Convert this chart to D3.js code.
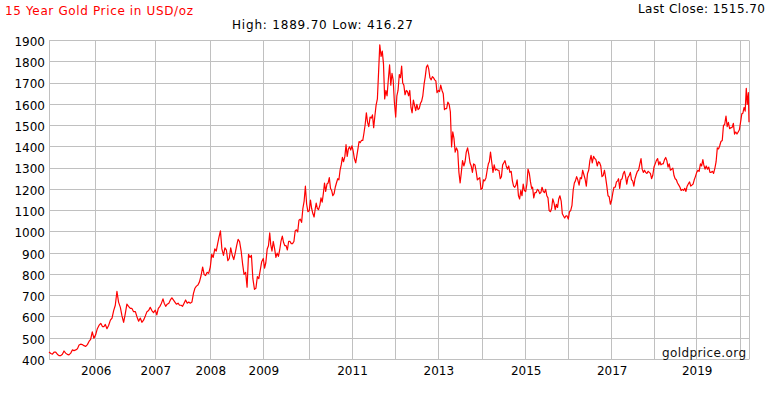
<!DOCTYPE html>
<html>
<head>
<meta charset="utf-8">
<script src="https://cdn.jsdelivr.net/npm/d3@7"></script>
<style>
  html, body { margin: 0; padding: 0; background: #fff; }
  svg { display: block; font-family: "DejaVu Sans", Verdana, sans-serif; }
</style>
</head>
<body>
<svg id="chart" width="770" height="394"></svg>
<script>
// ---------- DATA (gold price, USD/oz, sampled on days 1, 11, 21 of each month) ----------
const title = "15 Year Gold Price in USD/oz";
const highLow = "High: 1889.70 Low: 416.27";
const lastCloseLabel = "Last Close: 1515.70";
const source = "goldprice.org";

const sampleDays = [1, 11, 21];
const firstDate = "2005-03-21";
const lastGridDate = "2020-03-11";
const lastCloseDate = "2020-03-17";
const lastClose = 1515.70;

const p2005 = [435, 428,425,435, 435,425,418, 418,425,440, 430,424,422, 430,445,442, 445,450,468, 472,470,465, 462,470,485, 495,530,500];
const p2006 = [517,545,560, 570,555,555, 565,545,560, 585,595,630, 655,720,670, 645,605,575, 615,660,650, 640,640,625, 625,600,580, 595,575,585, 605,625,630, 645,630,620];
const p2007 = [632,610,640, 650,665,685, 665,650,660, 665,680,690, 680,670,660, 665,655,655, 650,665,680, 665,670,665, 670,710,735, 745,750,765, 795,835,800, 795,810,805];
const p2008 = [835,895,880, 920,910,945, 975,1005,920, 890,925,915, 865,875,925, 890,870,900, 935,965,955, 910,850,800, 810,740,895, 880,890,780, 730,735,790, 780,820,860];
const p2009 = [875,830,855, 920,935,995, 940,910,955, 920,880,900, 885,915,955, 980,950,935, 935,915,955, 955,945,945, 955,1005,1010, 1000,1055,1060, 1045,1110,1145, 1215,1130,1095];
const p2010 = [1100,1150,1110, 1085,1070,1110, 1135,1110,1105, 1125,1160,1140, 1180,1230,1190, 1225,1230,1255, 1205,1195,1170, 1180,1210,1230, 1250,1245,1290, 1315,1350,1330, 1355,1410,1355, 1390,1400,1385];
const p2011 = [1405,1380,1345, 1325,1360,1395, 1425,1420,1430, 1430,1465,1505, 1560,1515,1495, 1540,1535,1550, 1490,1545,1595, 1625,1750,1880, 1825,1850,1790, 1625,1665,1640, 1720,1785,1690, 1745,1715,1610];
const p2012 = [1540,1640,1665, 1740,1725,1780, 1700,1690,1645, 1665,1660,1640, 1665,1585,1560, 1620,1595,1570, 1600,1575,1580, 1605,1615,1640, 1695,1730,1775, 1785,1765,1725, 1715,1730,1725, 1715,1710,1655];
const p2013 = [1665,1660,1690, 1665,1650,1575, 1580,1580,1610, 1600,1565,1400, 1470,1440,1375, 1395,1380,1280, 1230,1280,1335, 1310,1330,1375, 1395,1365,1325, 1310,1280,1320, 1315,1285,1245, 1250,1255,1200];
const p2014 = [1205,1245,1240, 1255,1290,1320, 1330,1375,1330, 1280,1315,1290, 1295,1290,1290, 1250,1260,1315, 1325,1335,1310, 1295,1310,1280, 1285,1240,1215, 1210,1220,1245, 1170,1155,1195, 1170,1225,1195];
const p2015 = [1190,1225,1295, 1275,1235,1205, 1210,1160,1185, 1185,1200,1195, 1180,1185,1210, 1190,1185,1200, 1170,1160,1100, 1095,1110,1155, 1135,1105,1130, 1115,1155,1170, 1145,1085,1075, 1065,1075,1075];
const p2016 = [1060,1095,1100, 1125,1195,1230, 1240,1260,1245, 1220,1255,1250, 1290,1270,1250, 1215,1275,1290, 1335,1360,1325, 1355,1345,1340, 1310,1330,1325, 1310,1260,1265, 1290,1255,1215, 1170,1165,1130];
const p2017 = [1150,1185,1210, 1210,1235,1240, 1250,1205,1245, 1250,1275,1285, 1260,1225,1255, 1265,1280,1245, 1240,1215,1250, 1270,1285,1290, 1320,1345,1295, 1280,1290,1280, 1275,1285,1280, 1275,1250,1265];
const p2018 = [1305,1320,1335, 1345,1315,1330, 1315,1320,1320, 1340,1350,1335, 1305,1320,1290, 1295,1300,1265, 1250,1245,1230, 1220,1210,1195, 1200,1195,1205, 1190,1215,1225, 1235,1215,1220, 1225,1245,1260];
const p2019 = [1280,1290,1285, 1320,1310,1340, 1315,1295,1310, 1295,1305,1280, 1280,1285,1275, 1300,1330,1395, 1390,1405,1425, 1430,1500,1505, 1545,1495,1515, 1485,1490,1490, 1510,1460,1470, 1460,1470,1480];
const p2020 = [1520,1555,1558, 1585,1568,1675, 1600,1655];

const yTicks = [400, 500, 600, 700, 800, 900, 1000, 1100, 1200, 1300, 1400, 1500, 1600, 1700, 1800, 1900];
const gridYears = [2006, 2007, 2008, 2009, 2010, 2011, 2012, 2013, 2014, 2015, 2016, 2017, 2018, 2019, 2020];
const labelYears = [2006, 2007, 2008, 2009, 2011, 2013, 2015, 2017, 2019];

// ---------- LAYOUT ----------
const W = 770, H = 394;
const plot = { left: 49, right: 749, top: 40.5, bottom: 359.5 };
// horizontal positions where each year boundary falls on the original chart (uneven spacing)
const yearPixels = [95.7, 155.3, 210.3, 263.3, 309.3, 352, 395.7, 438.3, 482.3, 525.7, 568.3, 611.7, 654, 696.7, 740.7];

const parse = d3.timeParse("%Y-%m-%d");
const t0 = parse(firstDate), tGridEnd = parse(lastGridDate), tEnd = parse(lastCloseDate);

// build sample dates
const dates = [];
d3.timeMonth.range(new Date(2005, 2, 1), new Date(2020, 3, 1)).forEach(m => {
  sampleDays.forEach(d => {
    const t = new Date(m.getFullYear(), m.getMonth(), d);
    if (t >= t0 && t <= tGridEnd) dates.push(t);
  });
});
const prices = [].concat(p2005, p2006, p2007, p2008, p2009, p2010, p2011, p2012, p2013,
  p2014, p2015, p2016, p2017, p2018, p2019, p2020);
const series = dates.map((d, i) => ({ date: d, value: prices[i] }));
series.push({ date: tEnd, value: lastClose });

// ---------- SCALES ----------
const yearDates = gridYears.map(y => new Date(y, 0, 1));
const x = d3.scaleTime()
  .domain([t0, ...yearDates, tEnd])
  .range([plot.left, ...yearPixels, plot.right]);
const y = d3.scaleLinear().domain([400, 1900]).range([plot.bottom, plot.top]);

const svg = d3.select("#chart");
const gridColor = "#c0c0c0";
const snap = v => Math.round(v - 0.5) + 0.5;

// horizontal grid
svg.append("g").selectAll("line").data(yTicks).join("line")
  .attr("x1", plot.left).attr("x2", plot.right)
  .attr("y1", d => snap(y(d))).attr("y2", d => snap(y(d)))
  .attr("stroke", gridColor).attr("stroke-width", 1);

// vertical grid
svg.append("g").selectAll("line").data(yearDates).join("line")
  .attr("x1", d => snap(x(d))).attr("x2", d => snap(x(d)))
  .attr("y1", snap(y(1900))).attr("y2", snap(y(400)))
  .attr("stroke", gridColor).attr("stroke-width", 1);

// frame left/right
svg.append("line").attr("x1", snap(plot.left)).attr("x2", snap(plot.left))
  .attr("y1", snap(y(1900))).attr("y2", snap(y(400))).attr("stroke", gridColor);
svg.append("line").attr("x1", snap(plot.right)).attr("x2", snap(plot.right))
  .attr("y1", snap(y(1900))).attr("y2", snap(y(400))).attr("stroke", gridColor);

// y labels
const yAxis = d3.axisLeft(y).tickValues(yTicks).tickSize(0).tickPadding(0).tickFormat(d3.format("d"));
const gy = svg.append("g").attr("transform", `translate(${plot.left - 4},1)`).call(yAxis);
gy.select(".domain").remove();
gy.selectAll("text").attr("font-size", 12).attr("fill", "#000")
  .attr("font-family", "DejaVu Sans, Verdana, sans-serif");

// x labels
const xAxis = d3.axisBottom(x).tickValues(labelYears.map(yv => new Date(yv, 0, 1)))
  .tickSize(0).tickPadding(0).tickFormat(d3.timeFormat("%Y"));
const gx = svg.append("g").attr("transform", `translate(0,${plot.bottom + 7})`).call(xAxis);
gx.select(".domain").remove();
gx.selectAll("text").attr("font-size", 12).attr("fill", "#000")
  .attr("font-family", "DejaVu Sans, Verdana, sans-serif");

// price line
const line = d3.line().x(d => x(d.date)).y(d => y(d.value));
svg.append("path").datum(series)
  .attr("d", line).attr("fill", "none")
  .attr("stroke", "#ff0000").attr("stroke-width", 1.2).attr("stroke-linejoin", "round");

// texts (widths matched to the original's wider font)
svg.append("text").attr("x", 5).attr("y", 15).attr("font-size", 12)
  .attr("textLength", 188).attr("lengthAdjust", "spacing")
  .attr("fill", "#ff0000").text(title);
svg.append("text").attr("x", 232).attr("y", 29).attr("font-size", 12)
  .attr("textLength", 181).attr("lengthAdjust", "spacing")
  .attr("fill", "#000").text(highLow);
svg.append("text").attr("x", 638).attr("y", 13).attr("font-size", 12)
  .attr("textLength", 127).attr("lengthAdjust", "spacing")
  .attr("fill", "#000").text(lastCloseLabel);
svg.append("text").attr("x", 662).attr("y", 357).attr("font-size", 12)
  .attr("textLength", 84).attr("lengthAdjust", "spacing")
  .attr("fill", "#111").text(source);
</script>
</body>
</html>
